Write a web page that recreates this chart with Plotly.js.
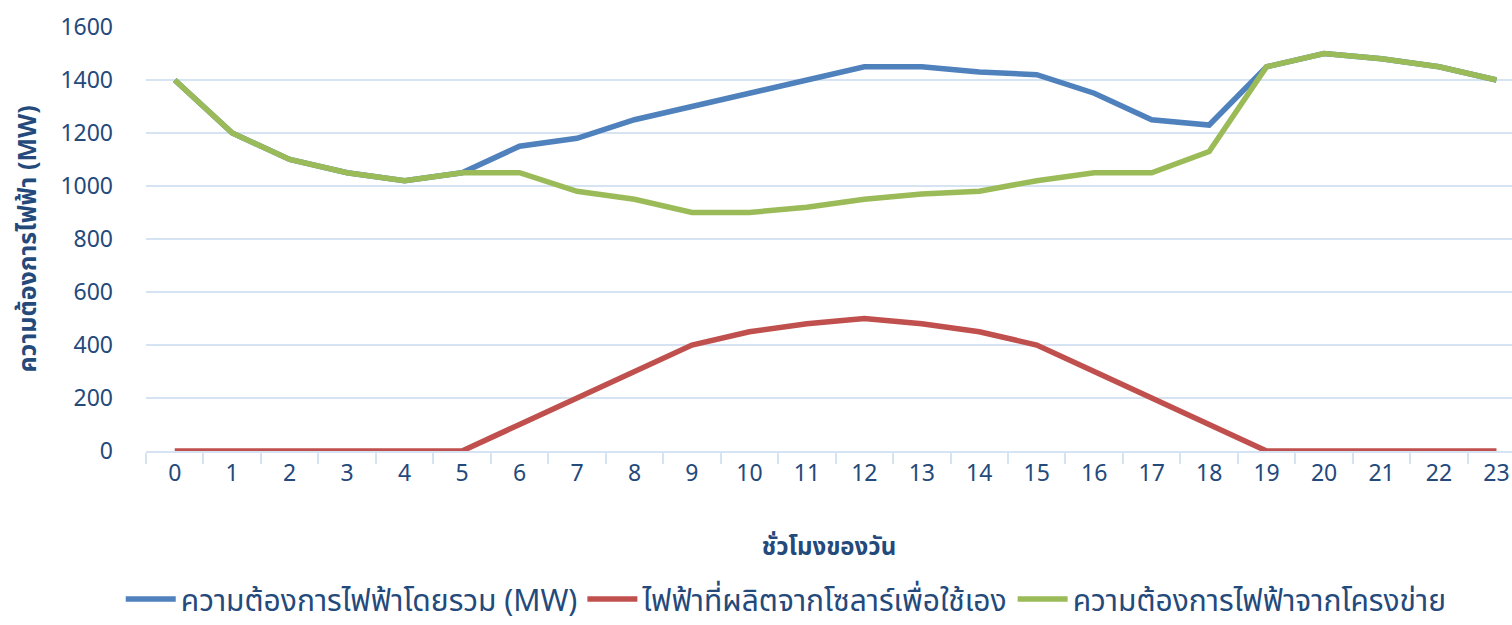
<!DOCTYPE html>
<html>
<head>
<meta charset="utf-8">
<script src="https://cdn.plot.ly/plotly-3.0.1.min.js"></script>
<style>html,body{margin:0;padding:0;background:#fff;}#chart{width:1512px;height:625px;}</style>
</head>
<body>
<div id="chart"></div>
<script>
const hours = ["0","1","2","3","4","5","6","7","8","9","10","11","12","13","14","15","16","17","18","19","20","21","22","23"];
const totalDemand = [1400,1200,1100,1050,1020,1050,1150,1180,1250,1300,1350,1400,1450,1450,1430,1420,1350,1250,1230,1450,1500,1480,1450,1400];
const solarSelf = [0,0,0,0,0,0,100,200,300,400,450,480,500,480,450,400,300,200,100,0,0,0,0,0];
const gridDemand = [1400,1200,1100,1050,1020,1050,1050,980,950,900,900,920,950,970,980,1020,1050,1050,1130,1450,1500,1480,1450,1400];
const seriesNames = ["ความต้องการไฟฟ้าโดยรวม (MW)","ไฟฟ้าที่ผลิตจากโซลาร์เพื่อใช้เอง","ความต้องการไฟฟ้าจากโครงข่าย"];
const yTicks = [0,200,400,600,800,1000,1200,1400,1600];
const xTitle = "ชั่วโมงของวัน";
const yTitle = "ความต้องการไฟฟ้า (MW)";

const fontFam = "'Noto Sans Thai','Noto Sans','Open Sans',sans-serif";
const txt = "#24497b";
const traces = [
  {x:hours, y:totalDemand, name:seriesNames[0], type:"scatter", mode:"lines", line:{color:"#4F81BD", width:5.5}},
  {x:hours, y:solarSelf, name:seriesNames[1], type:"scatter", mode:"lines", line:{color:"#C0504D", width:5.5}},
  {x:hours, y:gridDemand, name:seriesNames[2], type:"scatter", mode:"lines", line:{color:"#9BBB59", width:5.5}}
];
const layout = {
  width:1512, height:625,
  margin:{l:146, r:0, t:27, b:174},
  paper_bgcolor:"#fff", plot_bgcolor:"#fff",
  font:{family:fontFam, color:txt, size:23},
  showlegend:true,
  legend:{orientation:"h", x:0.52, xanchor:"center", xref:"container", y:0, yref:"container", yanchor:"bottom", font:{size:30, color:txt}, itemwidth:50, tracegroupgap:0, borderwidth:0},
  xaxis:{type:"category", range:[-0.5,23.27], tickson:"boundaries", ticks:"outside", ticklen:11, tickcolor:"#D6E3F3", tickwidth:2,
    showline:true, linecolor:"#D6E3F3", linewidth:2, showgrid:false, zeroline:false,
    tickfont:{size:23, color:txt}, title:{text:xTitle, font:{size:24, color:txt, weight:"bold"}, standoff:49}},
  yaxis:{range:[0,1600], tickvals:yTicks, ticks:"", showline:false, showgrid:true, gridcolor:"#D6E3F3", gridwidth:2, zeroline:false,
    tickfont:{size:23, color:txt}, ticklabelstandoff:32,
    title:{text:yTitle, font:{size:25, color:txt, weight:"bold"}, standoff:16}}
};
Plotly.newPlot("chart", traces, layout, {displayModeBar:false, staticPlot:true});
</script>
</body>
</html>
